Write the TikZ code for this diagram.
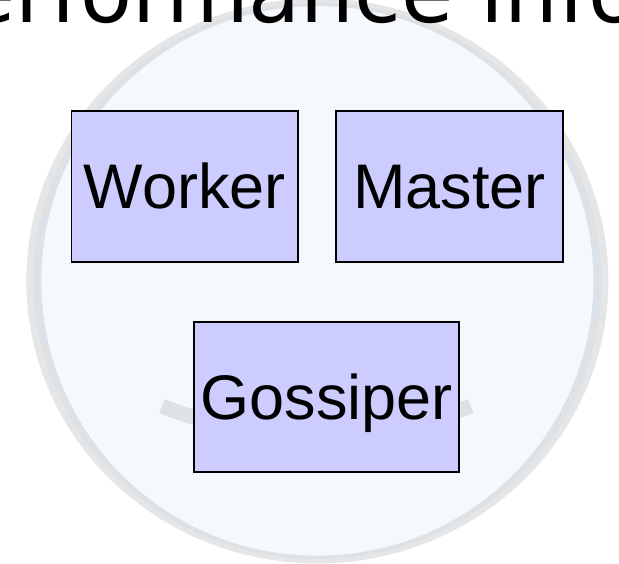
\documentclass[tikz,border=0pt]{standalone}
\usepackage{fontspec}
\newfontfamily\titlefont{DejaVu Sans}
\newfontfamily\boxfont{Liberation Sans}
\definecolor{ringout}{HTML}{E6E6E6}
\definecolor{ringin}{HTML}{DDE2E6}
\definecolor{facefill}{HTML}{F5F9FD}
\definecolor{boxfill}{HTML}{CCCCFF}
\tikzset{
  x=1pt, y=1pt,
  component/.style={draw=black, line width=1.8pt, fill=boxfill, inner sep=0pt,
    font=\boxfont\fontsize{63}{70}\selectfont, text height=45pt, text depth=0pt,
    align=center},
  smile/.style={draw=ringin, line width=15pt},
}
\begin{document}
\begin{tikzpicture}
\useasboundingbox (0,0) rectangle (619,564);
\clip (0,0) rectangle (619,564);
% background face: ring and fill
\fill[ringout] (317.35,283.1) ellipse [x radius=291, y radius=282.5];
\fill[ringin] (317.35,283.1) ellipse [x radius=284, y radius=278.2];
\fill[facefill] (317.35,283.1) ellipse [x radius=276, y radius=274.7];
% mouth of the face
\coordinate (mouthL) at (162,158);
\draw[smile] (mouthL) arc [start angle=248, end angle=292, radius=412];
% title
\node[anchor=base west, inner sep=0pt, font=\titlefont\fontsize{85}{100}\selectfont]
  (title) at (-85,541) {Performance info};
% components
\node[component, minimum width=226.5pt, minimum height=151pt] (worker) at (184.75,377.5) {Worker};
\node[component, minimum width=226.7pt, minimum height=151pt] (master) at (449.35,377.5) {Master};
\node[component, minimum width=265.3pt, minimum height=150.3pt] (gossiper) at (326.65,167.15) {Gossiper};
\end{tikzpicture}
\end{document}
